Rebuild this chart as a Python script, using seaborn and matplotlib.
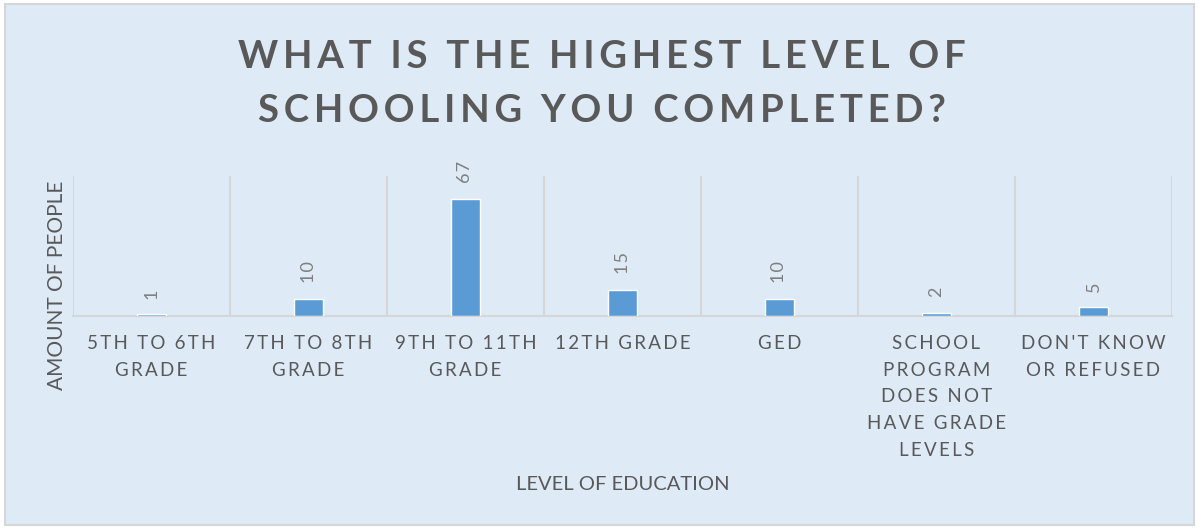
import matplotlib
matplotlib.use("Agg")
import matplotlib.pyplot as plt
import seaborn as sns
import pandas as pd
from matplotlib.patches import Rectangle

categories = ["5TH TO 6TH\nGRADE", "7TH TO 8TH\nGRADE", "9TH TO 11TH\nGRADE", "12TH GRADE",
              "GED", "SCHOOL\nPROGRAM\nDOES NOT\nHAVE GRADE\nLEVELS", "DON'T KNOW\nOR REFUSED"]
values = [1, 10, 67, 15, 10, 2, 5]
title = "WHAT IS THE HIGHEST LEVEL OF\nSCHOOLING YOU COMPLETED?"
xlabel = "LEVEL OF EDUCATION"
ylabel = "AMOUNT OF PEOPLE"

BG = "#deebf7"
GRID = "#d6d6d6"
BAR = "#5b9bd5"
TXT = "#595959"
FAM = ["Lato", "DejaVu Sans"]

def spaced(s, n=1):
    sp = "\u200a" * n
    return "\n".join(sp.join(line) for line in s.split("\n"))

sns.set_theme(style="white")
plt.rcParams['font.family'] = FAM

W, H = 1199, 529
fig = plt.figure(figsize=(W / 100, H / 100), dpi=100)
fig.patch.set_facecolor("white")
bg = Rectangle((5 / W, 4 / H), (1194 - 5) / W, (525 - 4) / H, transform=fig.transFigure,
               facecolor=BG, edgecolor=GRID, linewidth=1.5, zorder=-10)
fig.patches.append(bg)

ax = fig.add_axes([73 / W, 1 - 316 / H, (1172 - 73) / W, 140 / H])
ax.set_facecolor("none")
ax.set_zorder(5)

df = pd.DataFrame({"cat": [spaced(c, 2) for c in categories], "val": values})
sns.barplot(data=df, x="cat", y="val", color=BAR, width=0.185, saturation=1, ax=ax, zorder=3)
ax.set_xlim(-0.5, len(values) - 0.5)
ax.set_ylim(0, 80)
ax.set_yticks([])

for i, v in enumerate(values):
    ax.annotate(spaced(str(v), 1), (i, v), xytext=(0, 11), textcoords="offset points",
                rotation=90, ha="center", va="bottom", fontsize=13, color="#7f7f7f")

for x in [i - 0.5 for i in range(len(values) + 1)]:
    ax.axvline(x, color=GRID, lw=1.5, zorder=1)

for s in ["top", "left", "right"]:
    ax.spines[s].set_visible(False)
ax.spines["bottom"].set_color(GRID)
ax.spines["bottom"].set_linewidth(1.5)

ax.tick_params(axis="x", length=0, pad=14, labelsize=13.5, labelcolor=TXT)
for lbl in ax.get_xticklabels():
    lbl.set_linespacing(1.68)

ax.set_xlabel(xlabel, fontsize=14.5, color=TXT)
ax.xaxis.set_label_coords(0.5, (316 - 476) / 140)
ax.set_ylabel("")
fig.text(57 / W, 1 - 285 / H, ylabel, rotation=90, ha="center", va="center", fontsize=15, color=TXT)

fig.text(602 / W, 1 - 84 / H, spaced(title, 2), ha="center", va="center", fontsize=27.5,
         fontweight="bold", color=TXT, linespacing=1.69)

fig.savefig("out.png", dpi=100, facecolor=fig.get_facecolor())
